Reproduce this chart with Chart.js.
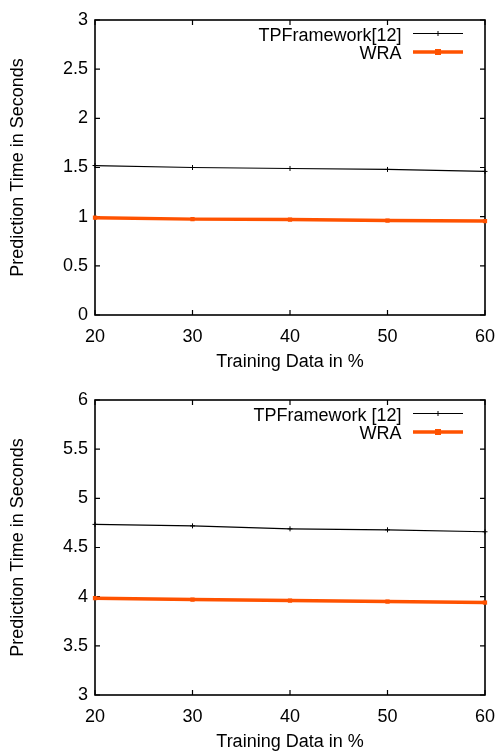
<!DOCTYPE html>
<html><head><meta charset="utf-8">
<script src="https://cdn.jsdelivr.net/npm/chart.js@4"></script>
<style>
html,body{margin:0;padding:0;background:#fff;overflow:hidden;width:499px;height:751px;}
.box{position:absolute;left:0;width:499px;height:375px;}
canvas{display:block;}
</style></head><body>
<div class="box" style="top:0"><canvas id="c1" width="499" height="375"></canvas></div>
<div class="box" style="top:380px"><canvas id="c2" width="499" height="375"></canvas></div>
<script>
// ---- data ----
const xValues = [20, 30, 40, 50, 60];
const xTickLabels = ['20', '30', '40', '50', '60'];

const topTPF = [1.52, 1.50, 1.49, 1.48, 1.46];
const topWRA = [0.99, 0.975, 0.97, 0.96, 0.955];
const topYTicks = ['0', '0.5', '1', '1.5', '2', '2.5', '3'];
const topLabels = ['TPFramework[12]', 'WRA'];

const botTPF = [4.735, 4.72, 4.69, 4.68, 4.66];
const botWRA = [3.985, 3.97, 3.96, 3.95, 3.94];
const botYTicks = ['3', '3.5', '4', '4.5', '5', '5.5', '6'];
const botLabels = ['TPFramework [12]', 'WRA'];

const xTitle = 'Training Data in %';
const yTitle = 'Prediction Time in Seconds';

// ---- style ----
const FONT = '"Liberation Sans", Arial, Helvetica, sans-serif';
const ORANGE = '#ff5200';
Chart.defaults.font.family = FONT;
Chart.defaults.font.size = 18;
Chart.defaults.color = '#000';

const framePlugin = {
  id: 'frame',
  beforeDatasetsDraw(chart) {
    const ctx = chart.ctx, a = chart.chartArea;
    const xs = chart.scales.x, ys = chart.scales.y;
    ctx.save();
    ctx.strokeStyle = '#000';
    ctx.lineWidth = 1.6;
    ctx.strokeRect(a.left, a.top, a.right - a.left, a.bottom - a.top);
    ctx.lineWidth = 1.2;
    const L = 5;
    ctx.beginPath();
    xs.ticks.forEach(t => {
      const px = xs.getPixelForValue(t.value);
      ctx.moveTo(px, a.bottom); ctx.lineTo(px, a.bottom - L);
      ctx.moveTo(px, a.top); ctx.lineTo(px, a.top + L);
    });
    ys.ticks.forEach(t => {
      const py = ys.getPixelForValue(t.value);
      ctx.moveTo(a.left, py); ctx.lineTo(a.left + L, py);
      ctx.moveTo(a.right, py); ctx.lineTo(a.right - L, py);
    });
    ctx.stroke();
    ctx.restore();
  }
};

const keyPlugin = {
  id: 'key',
  afterDraw(chart) {
    const ctx = chart.ctx, a = chart.chartArea;
    ctx.save();
    chart.data.datasets.forEach((ds, i) => {
      const rowY = a.top + 13.5 + i * 18.5;
      ctx.font = '18px ' + FONT;
      ctx.fillStyle = '#000';
      ctx.textAlign = 'right';
      ctx.textBaseline = 'alphabetic';
      ctx.fillText(ds.label, a.right - 83.5, rowY + 7.3);
      const x0 = a.right - 72, x1 = a.right - 22, xm = (x0 + x1) / 2;
      ctx.strokeStyle = ds.borderColor;
      ctx.lineWidth = ds.borderWidth;
      ctx.beginPath(); ctx.moveTo(x0, rowY); ctx.lineTo(x1, rowY); ctx.stroke();
      if (ds.pointStyle === 'cross') {
        ctx.lineWidth = 1;
        ctx.beginPath();
        ctx.moveTo(xm, rowY - 2.5); ctx.lineTo(xm, rowY + 2.5);
        ctx.stroke();
      } else {
        ctx.fillStyle = ds.borderColor;
        ctx.fillRect(xm - 3, rowY - 3, 6, 6);
      }
    });
    ctx.restore();
  }
};

function makeChart(id, tpf, wra, yTicks, labels, yMin, yMax) {
  const step = 0.5;
  return new Chart(document.getElementById(id), {
    type: 'line',
    data: {
      datasets: [
        {
          label: labels[0],
          data: xValues.map((x, i) => ({ x, y: tpf[i] })),
          borderColor: '#000', backgroundColor: '#000',
          borderWidth: 1.2, pointStyle: 'cross', pointRadius: 2.5,
          pointBorderWidth: 1, tension: 0, clip: false, fill: false
        },
        {
          label: labels[1],
          data: xValues.map((x, i) => ({ x, y: wra[i] })),
          borderColor: ORANGE, backgroundColor: ORANGE,
          borderWidth: 3.5, pointStyle: 'rect', pointRadius: 3,
          pointBorderWidth: 0, tension: 0, clip: false, fill: false
        }
      ]
    },
    options: {
      responsive: false, animation: false, devicePixelRatio: 1,
      layout: { padding: { top: 20, right: 14, left: 0, bottom: 0 } },
      plugins: { legend: { display: false }, tooltip: { enabled: false } },
      scales: {
        x: {
          type: 'linear', min: xValues[0], max: xValues[xValues.length - 1],
          ticks: {
            stepSize: 10, padding: 11, color: '#000', font: { size: 18 },
            maxRotation: 0,
            callback: v => { const k = xValues.indexOf(v); return k >= 0 ? xTickLabels[k] : ''; }
          },
          grid: { display: true, drawOnChartArea: false, drawTicks: false, color: 'rgba(0,0,0,0)' },
          border: { display: false },
          title: { display: true, text: xTitle, color: '#000', font: { size: 18 }, padding: { top: 0, bottom: 2.5 } },
          afterFit: s => { s.height = 60; s.paddingLeft = 0; s.paddingRight = 0; }
        },
        y: {
          type: 'linear', min: yMin, max: yMax,
          ticks: {
            stepSize: step, padding: 7, color: '#000', font: { size: 18 },
            callback: v => yTicks[Math.round((v - yMin) / step)] ?? ''
          },
          grid: { display: true, drawOnChartArea: false, drawTicks: false, color: 'rgba(0,0,0,0)' },
          border: { display: false },
          title: { display: true, text: yTitle, color: '#000', font: { size: 18 }, padding: { top: 7.5, bottom: 0 } },
          afterFit: s => { s.width = 95; s.paddingTop = 0; s.paddingBottom = 0; }
        }
      }
    },
    plugins: [framePlugin, keyPlugin]
  });
}

makeChart('c1', topTPF, topWRA, topYTicks, topLabels, 0, 3);
makeChart('c2', botTPF, botWRA, botYTicks, botLabels, 3, 6);
</script>
</body></html>
